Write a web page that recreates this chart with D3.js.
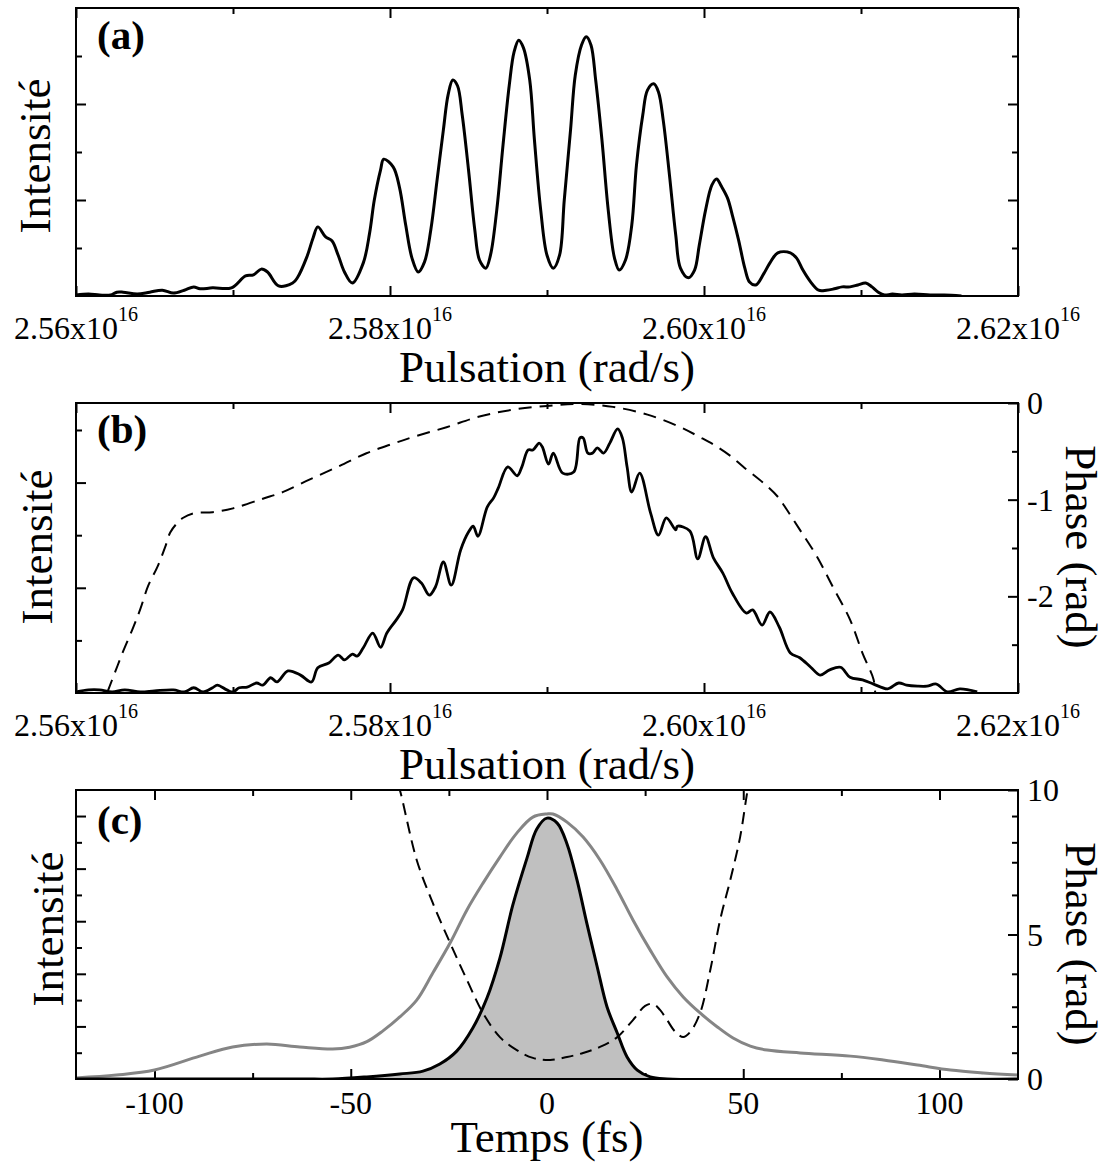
<!DOCTYPE html>
<html><head><meta charset="utf-8">
<script src="https://cdn.jsdelivr.net/npm/d3@7"></script>
<style>
body{margin:0;background:#fff}
svg{display:block}
text{font-family:"Liberation Serif","Times New Roman",Times,serif;fill:#000}
</style>
</head><body>
<svg id="chart" width="1106" height="1164"></svg>
<script>
// ---------- DATA ----------
// Panel (a): spectral intensity vs pulsation (units of 1e16 rad/s)
const omegaA = [2.5600,2.5608,2.5615,2.5622,2.5626,2.5630,2.5639,2.5647,2.5655,2.5662,2.5669,2.5675,2.5679,2.5687,2.5699,
2.5708,2.5713,2.5718,2.5722,2.5729,2.5738,2.5741,2.5747,2.5751,2.5754,2.5759,2.5763,2.5767,2.5771,2.5776,2.5783,2.5787,2.5790,
2.5794,2.5796,2.5802,2.5806,2.5810,2.5814,2.5818,2.5822,2.5826,2.5830,2.5834,2.5837,2.5840,2.5843,2.5846,2.5850,2.5854,2.5857,
2.5861,2.5864,2.5868,2.5872,2.5876,2.5879,2.5882,2.5885,2.5889,2.5892,2.5896,2.5900,2.5904,2.5908,2.5911,2.5915,2.5918,2.5922,
2.5925,2.5928,2.5931,2.5935,2.5939,2.5943,2.5946,2.5950,2.5954,2.5957,2.5961,2.5964,2.5968,2.5971,2.5974,2.5978,2.5982,2.5985,
2.5990,2.5994,2.5997,2.6001,2.6005,2.6008,2.6011,2.6015,2.6018,2.6022,2.6026,2.6029,2.6033,2.6038,2.6042,2.6047,2.6055,2.6059,
2.6063,2.6068,2.6073,2.6078,2.6083,2.6088,2.6093,2.6098,2.6103,2.6107,2.6111,2.6115,2.6120,2.6126,2.6134,2.6144,2.6153,2.6164];
const intensityA = [0.02,0.04,0.02,0.02,0.08,0.08,0.04,0.08,0.12,0.06,0.12,0.19,0.15,0.17,0.17,
0.42,0.44,0.56,0.50,0.21,0.27,0.38,0.81,1.21,1.44,1.23,1.15,0.85,0.50,0.27,0.69,1.31,2.00,
2.63,2.85,2.69,2.27,1.48,0.79,0.50,0.71,1.38,2.42,3.46,4.19,4.50,4.38,3.77,2.63,1.38,0.75,
0.58,0.85,1.79,3.15,4.40,5.08,5.33,5.17,4.50,3.25,1.79,0.85,0.58,0.85,2.00,3.46,4.60,5.23,
5.40,5.23,4.50,3.25,1.79,0.79,0.54,0.75,1.48,2.73,3.77,4.29,4.42,4.25,3.67,2.52,1.27,0.58,
0.38,0.54,1.06,1.79,2.31,2.44,2.29,2.04,1.69,1.17,0.58,0.29,0.23,0.46,0.69,0.90,0.90,0.79,
0.54,0.29,0.12,0.12,0.15,0.19,0.19,0.23,0.27,0.19,0.08,0.02,0.04,0.02,0.04,0.02,0.02,0.00];

// Panel (b): filtered spectral intensity and spectral phase
const omegaB = [2.5600,2.5608,2.5615,2.5623,2.5631,2.5641,2.5650,2.5662,2.5669,2.5675,2.5681,2.5687,2.5690,2.5696,2.5700,
2.5704,2.5709,2.5715,2.5719,2.5724,2.5728,2.5735,2.5743,2.5750,2.5754,2.5761,2.5767,2.5771,2.5776,2.5779,2.5783,2.5789,2.5794,
2.5798,2.5804,2.5808,2.5815,2.5820,2.5825,2.5829,2.5834,2.5839,2.5845,2.5850,2.5853,2.5856,2.5862,2.5866,2.5869,2.5875,2.5881,
2.5884,2.5888,2.5891,2.5895,2.5897,2.5901,2.5904,2.5910,2.5917,2.5921,2.5923,2.5926,2.5929,2.5932,2.5936,2.5940,2.5945,2.5948,
2.5951,2.5954,2.5959,2.5966,2.5971,2.5976,2.5982,2.5983,2.5991,2.5996,2.6001,2.6006,2.6012,2.6018,2.6027,2.6031,2.6037,2.6042,
2.6048,2.6055,2.6061,2.6068,2.6074,2.6080,2.6087,2.6093,2.6101,2.6108,2.6117,2.6124,2.6129,2.6136,2.6142,2.6148,2.6155,2.6163,2.6174];
const intensityB = [0.02,0.06,0.06,0.02,0.06,0.02,0.04,0.06,0.02,0.10,0.02,0.10,0.15,0.06,0.02,
0.10,0.11,0.19,0.15,0.29,0.21,0.42,0.34,0.21,0.48,0.57,0.72,0.63,0.74,0.70,0.86,1.14,0.87,
1.14,1.39,1.58,2.19,2.09,1.86,2.02,2.49,2.05,2.72,3.06,3.17,2.98,3.54,3.71,3.90,4.30,4.13,
4.30,4.62,4.62,4.75,4.68,4.35,4.56,4.18,4.20,4.85,4.85,4.56,4.56,4.66,4.56,4.75,5.02,4.85,
4.30,3.82,4.18,3.42,3.00,3.33,3.10,3.17,3.08,2.55,2.97,2.57,2.28,1.90,1.52,1.58,1.29,1.54,
1.25,0.76,0.67,0.49,0.34,0.44,0.49,0.30,0.25,0.17,0.08,0.19,0.15,0.13,0.13,0.17,0.02,0.08,0.02];
const omegaPhaseB = [2.5620,2.5625,2.5630,2.5636,2.5641,2.5646,2.5652,2.5657,2.5660,2.5664,2.5668,2.5675,2.5687,2.5700,
2.5719,2.5732,2.5749,2.5768,2.5785,2.5802,2.5815,2.5836,2.5857,2.5878,2.5900,2.5921,2.5942,2.5964,2.5985,2.5997,2.6006,
2.6017,2.6025,2.6038,2.6047,2.6053,2.6061,2.6072,2.6082,2.6093,2.6101,2.6108,2.6109];
const phaseB = [-2.99,-2.78,-2.57,-2.34,-2.13,-1.89,-1.69,-1.48,-1.34,-1.25,-1.19,-1.14,-1.13,-1.09,
-0.99,-0.92,-0.79,-0.65,-0.52,-0.42,-0.35,-0.25,-0.14,-0.07,-0.03,-0.01,-0.04,-0.12,-0.25,-0.35,-0.43,
-0.55,-0.66,-0.83,-0.97,-1.11,-1.31,-1.59,-1.90,-2.24,-2.59,-2.86,-2.99];

// Panel (c): temporal intensity (gray: unfiltered, black: filtered) and temporal phase
const timeGray = [-120,-109.7,-100,-88.5,-80.1,-71.4,-63,-54.6,-50.3,-45.9,-41.8,-37.5,-33.2,-29.1,-24.7,-20.4,-16.3,-12,-7.7,-3.6,
0,1.5,5.1,9.2,13.5,17.9,21.9,26.3,30.6,34.7,39,43.4,47.4,51.8,56.1,64.5,77.3,85.7,94.4,102.8,111.2,120];
const intensityGray = [0.04,0.15,0.34,0.87,1.22,1.33,1.22,1.14,1.21,1.42,1.83,2.36,3.00,4.03,5.17,6.43,7.45,8.44,9.35,9.96,
10.08,10.08,9.77,9.20,8.33,7.19,6.05,4.90,3.88,3.12,2.51,1.98,1.56,1.25,1.10,0.99,0.87,0.72,0.53,0.34,0.23,0.15];
const timeBlack = [-120,-63,-54.6,-45.9,-37.5,-31.6,-27.3,-23,-18.9,-15.3,-12,-8.7,-5.1,-2.6,0,2.6,5.1,7.7,10.2,12.8,15.3,17.9,
20.4,23,26.3,30.6,120];
const intensityBlack = [0,0,0,0.08,0.19,0.30,0.57,1.06,1.94,3.08,4.60,6.62,8.40,9.51,9.92,9.73,8.94,7.53,5.89,4.26,2.74,1.75,
0.84,0.34,0.08,0,0];
const timePhase = [-38,-37.5,-33.2,-29.1,-24.7,-20.4,-16.3,-12,-7.7,-3.6,0.8,5.1,9.2,13.5,17.9,21.9,25,27,28.8,30.6,32.7,34.7,
36.5,39,41.6,44.1,46.7,49.2,51,51.3];
const phaseC = [10.17,10.0,7.58,6.09,4.71,3.43,2.28,1.45,1.00,0.73,0.66,0.76,0.90,1.11,1.45,2.04,2.53,2.60,2.39,2.04,1.63,1.45,
1.63,2.28,3.77,5.50,6.89,8.37,9.90,10.07];

// Ticks / labels
const omegaTickMajor = [2.56,2.58,2.60,2.62];
const omegaTickLabels = ["2.56","2.58","2.60","2.62"];
const omegaTickMinor = [2.57,2.59,2.61];
const timeTickMajor = [-100,-50,0,50,100];
const timeTickMinor = [-75,-25,25,75];
const phaseBTicks = [0,-1,-2];
const phaseBMinor = [-0.5,-1.5,-2.5];
const phaseCTicks = [10,5,0];
const phaseCMinor = [7.5,2.5];

// ---------- LAYOUT ----------
const svg = d3.select("#chart");
const L = 76, R = 1018;
const panels = {
  a:{top:8,bottom:296},
  b:{top:403,bottom:693},
  c:{top:790,bottom:1079}
};
const xW = d3.scaleLinear().domain([2.56,2.62]).range([L,R]);
const xT = d3.scaleLinear().domain([-120,120]).range([L,R]);
const yA = d3.scaleLinear().domain([0,6]).range([panels.a.bottom,panels.a.top]);
const yB = d3.scaleLinear().domain([0,5.513]).range([panels.b.bottom,panels.b.top]);
const yBp = d3.scaleLinear().domain([-3,0]).range([panels.b.bottom,panels.b.top]);
const yC = d3.scaleLinear().domain([0,10.99]).range([panels.c.bottom,panels.c.top]);
const yCp = d3.scaleLinear().domain([0,10]).range([panels.c.bottom,panels.c.top]);

const MAJ = 10, MIN = 6;

function ticks(axisFn, scale, vals, len, transform){
  const g = svg.append("g").attr("transform", transform)
    .call(axisFn(scale).tickValues(vals).tickSize(-len).tickFormat(""));
  g.select(".domain").remove();
  g.selectAll("line").attr("stroke","#000").attr("stroke-width",2);
  g.selectAll("text").remove();
  return g;
}

function frame(key, xs, xMaj, xMin, yl, yMaj, yMin){
  const p = panels[key];
  svg.append("defs").append("clipPath").attr("id","clip-"+key)
    .append("rect").attr("x",L).attr("y",p.top).attr("width",R-L).attr("height",p.bottom-p.top);
  ticks(d3.axisBottom, xs, xMaj, MAJ, `translate(0,${p.bottom})`);
  ticks(d3.axisBottom, xs, xMin, MIN, `translate(0,${p.bottom})`);
  ticks(d3.axisTop, xs, xMaj, MAJ, `translate(0,${p.top})`);
  ticks(d3.axisTop, xs, xMin, MIN, `translate(0,${p.top})`);
  ticks(d3.axisLeft, yl, yMaj, MAJ, `translate(${L},0)`);
  ticks(d3.axisLeft, yl, yMin, MIN, `translate(${L},0)`);
}

function box(key){
  const p = panels[key];
  svg.append("rect").attr("x",L).attr("y",p.top).attr("width",R-L).attr("height",p.bottom-p.top)
    .attr("fill","none").attr("stroke","#000").attr("stroke-width",2);
}

function omegaLabels(key){
  const p = panels[key];
  omegaTickMajor.forEach((v,i)=>{
    const t = svg.append("text").attr("x",xW(v)).attr("y",p.bottom+43)
      .attr("text-anchor","middle").attr("font-size",32);
    t.append("tspan").text(omegaTickLabels[i]+"x10");
    t.append("tspan").attr("font-size",20).attr("dy",-18).text("16");
  });
  svg.append("text").attr("x",(L+R)/2).attr("y",p.bottom+86).attr("text-anchor","middle")
    .attr("font-size",45).text("Pulsation (rad/s)");
}

function intensityTitle(x, cy){
  svg.append("text").attr("transform",`translate(${x},${cy}) rotate(-90)`)
    .attr("text-anchor","middle").attr("font-size",45).text("Intensité");
}
function phaseTitle(cy){
  svg.append("text").attr("transform",`translate(1066,${cy}) rotate(90)`)
    .attr("text-anchor","middle").attr("font-size",45).text("Phase (rad)");
}
function panelLabel(txt, y){
  svg.append("text").attr("x",97).attr("y",y).attr("font-size",41).attr("font-weight","bold").text(txt);
}

// ---------- PANEL (a) ----------
frame("a", xW, omegaTickMajor, omegaTickMinor, yA, [2,4], [1,3,5]);
ticks(d3.axisRight, yA, [2,4], MAJ, `translate(${R},0)`);
ticks(d3.axisRight, yA, [1,3,5], MIN, `translate(${R},0)`);
const lineA = d3.line().x((d,i)=>xW(omegaA[i])).y((d,i)=>yA(intensityA[i])).curve(d3.curveCatmullRom.alpha(0.5));
svg.append("path").attr("clip-path","url(#clip-a)").attr("d",lineA(omegaA))
  .attr("fill","none").attr("stroke","#000").attr("stroke-width",3).attr("stroke-linejoin","round");
box("a");
omegaLabels("a");
intensityTitle(50, 156);
panelLabel("(a)",49);

// ---------- PANEL (b) ----------
frame("b", xW, omegaTickMajor, omegaTickMinor, yB, [2,4], [1,3,5]);
ticks(d3.axisRight, yBp, phaseBTicks, MAJ, `translate(${R},0)`);
ticks(d3.axisRight, yBp, phaseBMinor, MIN, `translate(${R},0)`);
const lineB = d3.line().x((d,i)=>xW(omegaB[i])).y((d,i)=>yB(intensityB[i])).curve(d3.curveCatmullRom.alpha(0.5));
svg.append("path").attr("clip-path","url(#clip-b)").attr("d",lineB(omegaB))
  .attr("fill","none").attr("stroke","#000").attr("stroke-width",2.8).attr("stroke-linejoin","round");
const lineBp = d3.line().x((d,i)=>xW(omegaPhaseB[i])).y((d,i)=>yBp(phaseB[i])).curve(d3.curveCatmullRom.alpha(0.5));
svg.append("path").attr("clip-path","url(#clip-b)").attr("d",lineBp(omegaPhaseB))
  .attr("fill","none").attr("stroke","#000").attr("stroke-width",2).attr("stroke-dasharray","13,8");
box("b");
omegaLabels("b");
intensityTitle(52, 547);
phaseTitle(547);
phaseBTicks.forEach(v=>{
  svg.append("text").attr("x",1027).attr("y",yBp(v)+11).attr("font-size",32).text(String(v));
});
panelLabel("(b)",443);

// ---------- PANEL (c) ----------
frame("c", xT, timeTickMajor, timeTickMinor, yC, [2,4,6,8,10], [1,3,5,7,9]);
ticks(d3.axisRight, yC, [1,2,4,7,9,10], MIN, `translate(${R},0)`);
ticks(d3.axisRight, yCp, phaseCTicks, MAJ, `translate(${R},0)`);
ticks(d3.axisRight, yCp, phaseCMinor, MIN, `translate(${R},0)`);
const areaC = d3.area().x((d,i)=>xT(timeBlack[i])).y0(yC(0)).y1((d,i)=>yC(intensityBlack[i])).curve(d3.curveCatmullRom.alpha(0.5));
svg.append("path").attr("clip-path","url(#clip-c)").attr("d",areaC(timeBlack)).attr("fill","#c0c0c0");
const lineGray = d3.line().x((d,i)=>xT(timeGray[i])).y((d,i)=>yC(intensityGray[i])).curve(d3.curveCatmullRom.alpha(0.5));
svg.append("path").attr("clip-path","url(#clip-c)").attr("d",lineGray(timeGray))
  .attr("fill","none").attr("stroke","#858585").attr("stroke-width",3);
const lineBlack = d3.line().x((d,i)=>xT(timeBlack[i])).y((d,i)=>yC(intensityBlack[i])).curve(d3.curveCatmullRom.alpha(0.5));
svg.append("path").attr("clip-path","url(#clip-c)").attr("d",lineBlack(timeBlack))
  .attr("fill","none").attr("stroke","#000").attr("stroke-width",3);
const linePc = d3.line().x((d,i)=>xT(timePhase[i])).y((d,i)=>yCp(phaseC[i])).curve(d3.curveCatmullRom.alpha(0.5));
svg.append("path").attr("clip-path","url(#clip-c)").attr("d",linePc(timePhase))
  .attr("fill","none").attr("stroke","#000").attr("stroke-width",2).attr("stroke-dasharray","12,7");
box("c");
timeTickMajor.forEach(v=>{
  svg.append("text").attr("x",xT(v)).attr("y",1114).attr("text-anchor","middle").attr("font-size",32).text(String(v));
});
svg.append("text").attr("x",(L+R)/2).attr("y",1152).attr("text-anchor","middle").attr("font-size",45).text("Temps (fs)");
intensityTitle(63, 929);
phaseTitle(944);
phaseCTicks.forEach(v=>{
  svg.append("text").attr("x",1027).attr("y",yCp(v)+11).attr("font-size",32).text(String(v));
});
panelLabel("(c)",834);
</script>
</body></html>
